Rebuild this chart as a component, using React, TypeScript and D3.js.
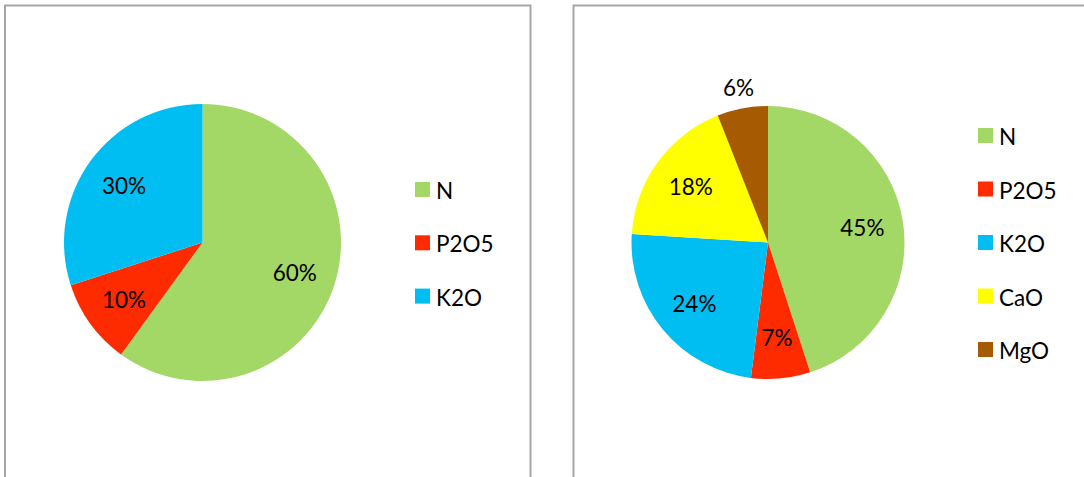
import React from "react";
import * as d3 from "d3";

// chart data
const leftNames = ["N", "P2O5", "K2O"];
const leftValues = [60, 10, 30];
const rightNames = ["N", "P2O5", "K2O", "CaO", "MgO"];
const rightValues = [45, 7, 24, 18, 6];
const colors: Record<string, string> = {
    N: "#A3D766",
    P2O5: "#FF2B00",
    K2O: "#00BEF2",
    CaO: "#FFFF00",
    MgO: "#A65A02",
};

const FONT = "Lato, 'Open Sans', sans-serif";

interface PieProps {
    names: string[];
    values: number[];
    cx: number;
    cy: number;
    r: number;
    legendX: number;
    legendY: number;
    legendStep: number;
}

const Pie: React.FC<PieProps> = ({ names, values, cx, cy, r, legendX, legendY, legendStep }) => {
    const data = names.map((n, i) => ({ name: n, value: values[i] }));
    const pie = d3.pie<{ name: string; value: number }>().sort(null).value((d) => d.value);
    const arcs = pie(data);
    const arc = d3.arc<d3.PieArcDatum<{ name: string; value: number }>>().innerRadius(0).outerRadius(r);
    const inner = d3.arc<d3.PieArcDatum<{ name: string; value: number }>>()
        .innerRadius(r * 0.7)
        .outerRadius(r * 0.7);
    const outer = d3.arc<d3.PieArcDatum<{ name: string; value: number }>>()
        .innerRadius(r + 21)
        .outerRadius(r + 21);
    const total = d3.sum(values);
    const legendScale = d3.scalePoint<string>().domain(names).range([legendY, legendY + legendStep * (names.length - 1)]);

    return (
        <g>
            <g transform={`translate(${cx},${cy})`}>
                {arcs.map((a) => (
                    <path key={a.data.name} d={arc(a) as string} fill={colors[a.data.name]} />
                ))}
                {arcs.map((a) => {
                    const pct = Math.round((a.data.value / total) * 100);
                    const [x, y] = pct < 7 ? outer.centroid(a) : inner.centroid(a);
                    return (
                        <text
                            key={a.data.name}
                            x={x}
                            y={y}
                            textAnchor="middle"
                            dominantBaseline="central"
                            fontFamily={FONT}
                            fontSize={22.5}
                            fill="#000"
                        >
                            {pct}%
                        </text>
                    );
                })}
            </g>
            {names.map((n) => {
                const y = legendScale(n) as number;
                return (
                    <g key={n}>
                        <rect x={legendX} y={y - 7.5} width={15} height={15} fill={colors[n]} />
                        <text
                            x={legendX + 21}
                            y={y + 1}
                            dominantBaseline="central"
                            fontFamily={FONT}
                            fontSize={22.5}
                            fill="#000"
                        >
                            {n}
                        </text>
                    </g>
                );
            })}
        </g>
    );
};

export default function App() {
    return (
        <svg
            width={1084}
            height={477}
            style={{ position: "absolute", left: 0, top: 0, background: "#fff" }}
        >
            <rect x={5} y={5.5} width={525.5} height={500} fill="#fff" stroke="#A6A6A6" strokeWidth={2} />
            <rect x={573.5} y={5.5} width={540} height={500} fill="#fff" stroke="#A6A6A6" strokeWidth={2} />
            <Pie
                names={leftNames}
                values={leftValues}
                cx={202.5}
                cy={242.5}
                r={138.5}
                legendX={415}
                legendY={189.5}
                legendStep={53.3}
            />
            <Pie
                names={rightNames}
                values={rightValues}
                cx={768}
                cy={242.5}
                r={136.5}
                legendX={978}
                legendY={135.5}
                legendStep={53.5}
            />
        </svg>
    );
}
